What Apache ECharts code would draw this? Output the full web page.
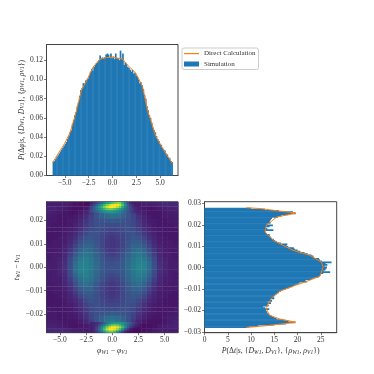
<!DOCTYPE html>
<html>
<head>
<meta charset="utf-8">
<style>
  html, body { margin: 0; padding: 0; background: #fff; }
  #chart { width: 374px; height: 374px; filter: blur(0.45px); }
</style>
<script src="https://cdn.jsdelivr.net/npm/echarts@6/dist/echarts.min.js"></script>
</head>
<body>
<div id="chart"></div>
<script>
  // histogram of phi difference, 100 bins
  const phiStart = -6.22
  const phiStep = 0.1257
  const phiHist = [
    .014,.015,.017,.019,.021,.023,.025,.027,.029,.031,
    .033,.035,.038,.041,.045,.047,.054,.058,.063,.066,
    .072,.076,.083,.089,.091,.096,.096,.099,.100,.101,
    .104,.108,.111,.109,.113,.115,.117,.118,.120,.125,
    .122,.123,.122,.123,.126,.127,.126,.123,.127,.122,
    .124,.121,.127,.122,.122,.120,.130,.121,.127,.115,
    .118,.116,.113,.112,.110,.108,.110,.106,.107,.104,
    .103,.100,.096,.097,.094,.090,.084,.080,.072,.068,
    .063,.060,.055,.050,.047,.045,.041,.038,.036,.033,
    .032,.029,.027,.026,.023,.022,.019,.018,.015,.014
  ]
  const phiCurveX = [-6.28,-5,-4.48,-3.95,-3.25,-2.66,-2.03,-1.33,-0.63,0,1.05,1.57,2.45,3.15,3.67,4.55,5.24,6.28]
  const phiCurveY = [.0135,.0336,.044,.061,.089,.0995,.113,.121,.1228,.123,.1214,.115,.1065,.0926,.068,.0406,.0284,.0125]

  // histogram of t difference, 100 bins, bottom to top
  const tStart = -0.0277
  const tStep = 0.00056
  const tHist = [
    9.5,11.5,15,17.5,19.5,18,17,15.5,15,14.5,
    14,13.8,13.5,13.4,13.2,13.9,13,12.6,13.8,13.6,
    14.3,13.5,14.5,14.2,15,14.9,15,15.2,15.6,16,
    16.4,16.8,17.5,18.2,18.9,19.4,20,20.4,22,21.7,
    23,23.5,24.5,24.8,25,25.5,27,25.6,26,26.2,
    26.3,25.8,26.4,26,27.3,25.2,24.8,24.6,23.5,23.4,
    23,22.2,21.5,20.6,20,19.4,19.2,18,17.6,17.8,
    16.4,15.6,15.2,14.9,14.4,14.3,14,14,13.3,13.2,
    13,14.8,13.5,13.2,14,14.7,13.4,14.2,14,14.1,
    14.3,14.5,15.8,16.5,18,19.6,19,16,13,10
  ]
  const tCurveT = [-.028,-.0274,-.0266,-.0255,-.024,-.0223,-.0188,-.0142,-.011,-.0087,-.0064,-.004,.0003,.0026,.0058,.0081,.0127,.0166,.0198,.0236,.0255,.0266,.0276,.028]
  const tCurveV = [9,12,15.5,19.6,16.2,14,13.2,14.4,16.2,19,22,24.8,25.5,25.1,22.6,19,14.8,13,13.3,15.5,19.6,15.5,12,9]

  // joint density, rows from top to bottom, on a 0-100 colour scale
  const cellPhiStart = -6.03
  const cellPhiStep = 0.5026
  const cellTStart = 0.027
  const cellTStep = 0.0018
  const density = [
    [8,8,8,8,7,5,4,3,4,8,12,12,12,12,12,12,9,7,8,8,9,10,11,11,11],
    [9,9,8,7,5,4,4,6,12,16,16,16,16,16,16,16,14,7,6,5,6,7,8,9,9],
    [9,8,7,6,5,5,7,10,16,24,32,38,42,40,34,26,18,11,8,6,6,6,7,8,8],
    [8,7,6,6,6,7,9,13,19,25,30,34,36,35,30,26,20,14,10,7,6,6,7,7,7],
    [7,7,6,6,7,8,11,15,20,24,26,27,28,27,26,24,21,16,11,8,7,6,6,7,7],
    [7,6,6,6,7,9,12,17,21,24,24,23,23,23,24,24,22,17,12,9,7,6,6,6,7],
    [6,6,6,7,8,10,14,19,23,24,23,21,20,21,22,24,23,19,14,10,8,7,6,6,6],
    [6,6,6,7,9,12,17,22,25,25,22,19,18,19,21,24,25,22,16,12,9,7,6,6,6],
    [6,6,7,8,10,14,20,25,27,25,21,18,16,18,20,24,27,25,20,14,10,8,7,6,6],
    [6,7,7,8,11,17,24,29,29,26,21,17,15,17,20,25,29,29,24,17,11,8,7,7,6],
    [7,7,7,9,13,20,28,32,32,27,21,17,15,17,20,26,32,32,28,20,13,9,7,7,7],
    [7,7,8,10,15,24,32,36,34,29,23,18,16,18,22,28,34,37,33,24,15,10,8,7,7],
    [7,8,8,11,18,28,36,39,37,31,25,20,18,20,25,31,37,40,36,28,18,11,8,8,7],
    [7,8,9,12,21,32,40,42,39,33,27,23,21,23,27,33,39,43,40,32,21,12,9,8,7],
    [8,8,10,13,23,35,42,44,40,34,28,25,24,25,28,34,40,44,43,36,23,13,10,8,8],
    [8,8,10,14,24,36,43,44,41,35,29,26,25,26,29,35,41,45,44,36,24,14,10,8,8],
    [8,8,10,13,23,36,43,44,40,34,28,25,24,25,28,34,40,44,42,35,23,13,10,8,8],
    [7,8,9,12,21,32,40,43,39,33,27,23,21,23,27,33,39,42,40,32,21,12,9,8,7],
    [7,8,8,11,18,28,36,40,37,31,25,20,18,20,25,31,37,39,36,28,18,11,8,8,7],
    [7,7,8,10,15,24,33,37,34,28,22,18,16,18,23,29,34,36,32,24,15,10,8,7,7],
    [7,7,7,9,13,20,28,32,32,26,20,17,15,17,21,27,32,32,28,20,13,9,7,7,7],
    [6,7,7,8,11,17,24,29,29,25,20,17,15,17,21,26,29,29,24,17,11,8,7,7,6],
    [6,6,7,8,10,14,20,25,27,24,20,18,16,18,21,25,27,25,20,14,10,8,7,6,6],
    [6,6,6,7,9,12,16,22,25,24,21,19,18,19,22,25,25,22,17,12,9,7,6,6,6],
    [6,6,6,7,8,10,14,19,23,24,22,21,20,21,23,24,23,19,14,10,8,7,6,6,6],
    [7,6,6,6,7,9,12,17,22,24,24,23,23,23,24,24,21,17,12,9,7,6,6,6,7],
    [7,7,6,6,7,8,11,16,21,24,26,27,28,27,26,24,20,15,11,8,7,6,6,7,7],
    [7,7,6,6,7,7,10,14,20,26,30,35,37,35,31,25,19,13,9,7,6,6,7,8,8],
    [8,8,7,6,6,6,8,11,18,26,32,38,42,38,32,24,16,10,7,5,5,5,6,8,9],
    [9,9,8,7,6,5,6,7,10,14,14,14,14,14,14,14,12,6,4,4,5,7,8,9,9],
    [11,11,11,10,9,8,8,7,9,10,10,10,10,10,10,8,4,3,4,5,7,8,8,8,8]
  ]

  // finer cells over the two bright spots
  const spotPhiStart = -2
  const spotPhiStep = 0.25
  const spotTStep = 0.0009
  const topSpotT = [.0275,.0266,.0257,.0248,.0239]
  const topSpot = [
    [10,14,20,28,36,45,55,62,70,78,82,80,62,40,22,12,8,7,7],
    [14,20,30,42,55,68,80,90,97,100,100,92,72,50,30,18,11,8,7],
    [20,28,40,52,66,80,92,100,100,98,90,78,60,44,30,20,13,9,8],
    [22,30,40,48,58,68,76,80,78,72,66,58,48,38,30,22,16,11,9],
    [22,28,34,40,46,50,54,56,54,52,48,44,38,32,26,20,15,12,9]
  ]
  const bottomSpotT = [-.0239,-.0248,-.0257,-.0266,-.0275]
  const bottomSpot = [
    [9,10,12,16,22,30,40,46,52,55,56,54,50,44,36,28,20,14,10],
    [9,10,14,22,32,44,58,70,78,82,78,70,58,46,34,24,16,11,8],
    [8,11,18,30,46,62,80,92,100,100,96,85,68,50,30,18,11,7,5],
    [8,12,20,34,52,72,90,100,100,96,86,70,50,30,16,8,5,4,4],
    [8,10,16,26,40,56,70,78,78,70,55,36,20,10,5,4,4,3,3]
  ]

  const phiTicks = [-5, -2.5, 0, 2.5, 5]
  const probTicks = [0, .02, .04, .06, .08, .10, .12]
  const tTicks = [-.03, -.02, -.01, 0, .01, .02, .03]
  const tTicksHeat = [-.02, -.01, 0, .01, .02]
  const probTTicks = [0, 5, 10, 15, 20, 25]
  const viridis = ['#440154','#482475','#414487','#355f8d','#2a788e','#21918c','#22a884','#44bf70','#7ad151','#bddf26','#fde725']

  const blue = '#1f77b4'
  const orange = '#ff7f0e'
  const textColor = '#333'
  const serif = '"Liberation Serif", serif'

  const fmt = d => v => v.toFixed(d).replace('-', '\u2212')

  function axis(min, max, ticks, digits, gridIndex, name, nameGap) {
    return {
      type: 'value', gridIndex, min, max, scale: true,
      splitLine: { show: false },
      axisLine: { onZero: false, lineStyle: { color: '#444', width: 1 } },
      axisTick: { length: 2.5, lineStyle: { color: '#444', width: 0.7 }, customValues: ticks },
      axisLabel: {
        fontFamily: serif, fontSize: 7.5, color: textColor, margin: 3.5,
        customValues: ticks, formatter: fmt(digits)
      },
      name, nameLocation: 'middle', nameGap,
      nameTextStyle: {
        fontFamily: serif, fontSize: 7.8, color: textColor,
        rich: {
          i: { fontFamily: serif, fontStyle: 'italic', fontSize: 7.8, color: textColor },
          s: { fontFamily: serif, fontStyle: 'italic', fontSize: 5.5, color: textColor, verticalAlign: 'bottom', padding: [3, 0, 0, 0] }
        }
      }
    }
  }

  const phiName = '{i|\u03c6}{s|W1} \u2212 {i|\u03c6}{s|V1}'
  const tName = '{i|t}{s|W1} \u2212 {i|t}{s|V1}'
  const probPhi = '{i|P}(\u0394{i|\u03c6}|{i|s}, {{i|D}{s|W1}, {i|D}{s|V1}}, {{i|\u03c1}{s|W1}, {i|\u03c1}{s|V1}})'
  const probT = '{i|P}(\u0394{i|t}|{i|s}, {{i|D}{s|W1}, {i|D}{s|V1}}, {{i|\u03c1}{s|W1}, {i|\u03c1}{s|V1}})'

  // x, y, value, cell width, cell height
  const cells = []
  density.forEach((row, r) => row.forEach((v, c) => {
    cells.push([cellPhiStart + c * cellPhiStep, cellTStart - r * cellTStep, v, cellPhiStep, cellTStep])
  }))
  function addSpot(rows, rowT) {
    rows.forEach((row, r) => row.forEach((v, c) => {
      cells.push([spotPhiStart + c * spotPhiStep, rowT[r], v, spotPhiStep, spotTStep])
    }))
  }
  addSpot(topSpot, topSpotT)
  addSpot(bottomSpot, bottomSpotT)

  function renderCell(params, api) {
    const x = api.value(0), y = api.value(1), w = api.value(3), h = api.value(4)
    const a = api.coord([x - w / 2, y + h / 2])
    const b = api.coord([x + w / 2, y - h / 2])
    return {
      type: 'rect',
      shape: { x: a[0], y: a[1], width: b[0] - a[0] + 0.4, height: b[1] - a[1] + 0.4 },
      style: { fill: api.visual('color') }
    }
  }
  function renderVBar(params, api) {
    const x = api.value(0)
    const a = api.coord([x - phiStep / 2, api.value(1)])
    const b = api.coord([x + phiStep / 2, 0])
    return { type: 'rect', shape: { x: a[0], y: a[1], width: b[0] - a[0] + 0.5, height: b[1] - a[1] }, style: { fill: blue } }
  }
  function renderHBar(params, api) {
    const t = api.value(1)
    const a = api.coord([0, t + tStep / 2])
    const b = api.coord([api.value(0), t - tStep / 2])
    return { type: 'rect', shape: { x: a[0], y: a[1], width: b[0] - a[0], height: b[1] - a[1] + 0.5 }, style: { fill: blue } }
  }

  const option = {
    animation: false,
    backgroundColor: '#fff',
    legend: {
      left: 182, top: 48, orient: 'vertical',
      data: [
        { name: 'Direct Calculation', icon: 'path://M0 0L0 0M0 2H15V3.2H0ZM15 5L15 5', itemStyle: { color: orange } },
        { name: 'Simulation', icon: 'rect', itemStyle: { color: blue } }
      ],
      itemWidth: 15, itemHeight: 5, itemGap: 3.5, padding: [2, 3, 2, 2],
      borderColor: '#ccc', borderWidth: 1, borderRadius: 2, selectedMode: false,
      textStyle: { fontFamily: serif, fontSize: 7, color: textColor, padding: [0, 0, 0, 0] }
    },
    visualMap: {
      show: false, seriesIndex: 3, dimension: 2, min: 0, max: 100,
      inRange: { color: viridis }
    },
    grid: [
      { left: 46.5, top: 44.5, width: 131.5, height: 131, show: true, borderColor: '#444', borderWidth: 1 },
      { left: 46.5, top: 201.7, width: 131.5, height: 131, show: true, borderColor: '#444', borderWidth: 1 },
      { left: 204.5, top: 201.7, width: 132.2, height: 131, show: true, borderColor: '#444', borderWidth: 1 }
    ],
    xAxis: [
      axis(-6.92, 6.87, phiTicks, 1, 0, '', 0),
      axis(-6.28, 6.28, phiTicks, 1, 1, phiName, 14),
      axis(0, 28.4, probTTicks, 0, 2, probT, 14)
    ],
    yAxis: [
      axis(0, 0.1364, probTicks, 2, 0, probPhi, 20),
      axis(-0.028, 0.028, tTicksHeat, 2, 1, tName, 24),
      axis(-0.0304, 0.0308, tTicks, 2, 2, '', 0)
    ],
    series: [
      {
        name: 'Simulation', type: 'custom', xAxisIndex: 0, yAxisIndex: 0,
        itemStyle: { color: blue }, encode: { x: 0, y: 1 },
        renderItem: renderVBar,
        data: phiHist.map((v, i) => [phiStart + i * phiStep, v])
      },
      {
        name: 'Direct Calculation', type: 'line', xAxisIndex: 0, yAxisIndex: 0,
        symbol: 'none', z: 5, lineStyle: { color: orange, width: 1 }, itemStyle: { color: orange },
        data: phiCurveX.map((x, i) => [x, phiCurveY[i]])
      },
      {
        type: 'custom', xAxisIndex: 2, yAxisIndex: 2,
        encode: { x: 0, y: 1 },
        renderItem: renderHBar,
        data: tHist.map((v, i) => [v, tStart + i * tStep])
      },
      {
        type: 'custom', xAxisIndex: 1, yAxisIndex: 1, clip: true,
        encode: { x: 0, y: 1 },
        data: cells,
        renderItem: renderCell
      },
      {
        type: 'line', xAxisIndex: 2, yAxisIndex: 2,
        symbol: 'none', z: 5, lineStyle: { color: orange, width: 1 },
        data: tCurveT.map((t, i) => [tCurveV[i], t])
      }
    ]
  }

  const myChart = echarts.init(document.getElementById('chart'), null, { renderer: 'canvas' })
  myChart.setOption(option)
</script>
</body>
</html>
